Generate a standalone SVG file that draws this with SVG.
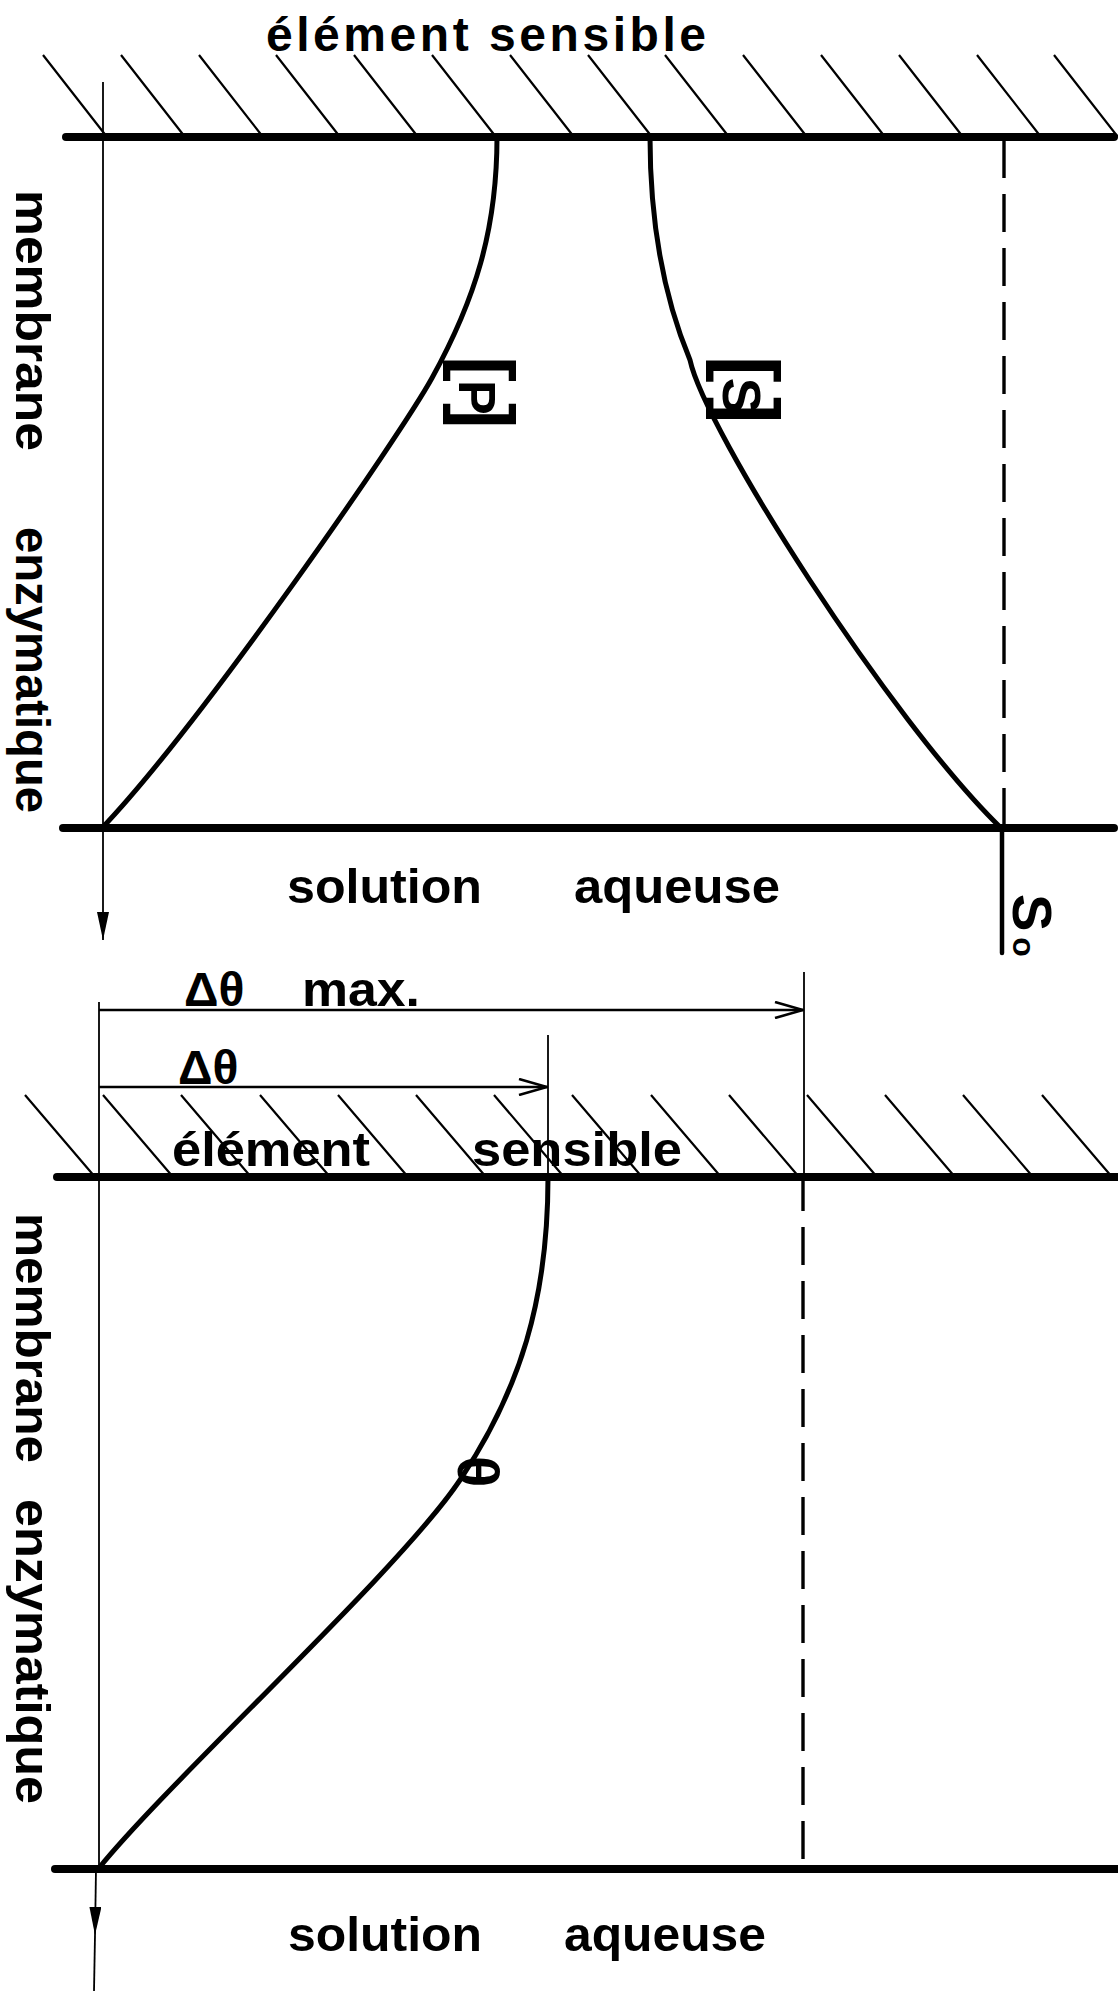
<svg xmlns="http://www.w3.org/2000/svg" width="1118" height="1991" viewBox="0 0 1118 1991">
<defs>
<style>
.t{font-family:"Liberation Sans",Arial,sans-serif;font-weight:bold;font-size:48px;fill:#000}
.thick{stroke:#000;stroke-width:8;stroke-linecap:round;fill:none}
.hatch{stroke:#000;stroke-width:2.2;fill:none}
.curve{stroke:#000;stroke-width:5;fill:none;stroke-linecap:round}
.thin{stroke:#000;stroke-width:1.8;fill:none}
.dash{stroke:#000;stroke-width:3.4;fill:none;stroke-dasharray:38 16}
.dim{stroke:#000;stroke-width:2.6;fill:none}
</style>
<marker id="filled" viewBox="0 0 28 12" refX="28" refY="6" markerWidth="28" markerHeight="12" markerUnits="userSpaceOnUse" orient="auto">
<path d="M0,0 L28,6 L0,12 Z" fill="#000"/>
</marker>
<marker id="open" viewBox="0 0 30 18" refX="29" refY="9" markerWidth="30" markerHeight="18" markerUnits="userSpaceOnUse" orient="auto">
<path d="M1,1 L29,9 L1,17" fill="none" stroke="#000" stroke-width="2.6"/>
</marker>
</defs>
<rect width="1118" height="1991" fill="#fff"/>

<!-- TOP DIAGRAM -->
<g id="top-hatch">
<path class="hatch" d="M43,55 L107,137 M121,55 L185,137 M199,55 L263,137 M276,55 L340,137 M354,55 L418,137 M432,55 L496,137 M510,55 L574,137 M588,55 L652,137 M665,55 L729,137 M743,55 L807,137 M821,55 L885,137 M899,55 L963,137 M977,55 L1041,137 M1054,55 L1118,137"/>
</g>
<g id="top-sensor-line"><line class="thick" x1="66" y1="137" x2="1114" y2="137"/></g>
<g id="top-solution-line"><line class="thick" x1="63" y1="828" x2="1114" y2="828"/></g>
<g id="top-label-sensor"><text class="t" x="266" y="51" textLength="440" lengthAdjust="spacing">élément sensible</text></g>
<g id="top-label-solution">
<text class="t" x="287" y="903" textLength="195" lengthAdjust="spacingAndGlyphs">solution</text>
<text class="t" x="574" y="903" textLength="206" lengthAdjust="spacingAndGlyphs">aqueuse</text>
</g>
<g id="top-label-membrane">
<text class="t" transform="translate(16,190) rotate(90)" textLength="261" lengthAdjust="spacingAndGlyphs">membrane</text>
<text class="t" transform="translate(16,527) rotate(90)" textLength="286" lengthAdjust="spacingAndGlyphs">enzymatique</text>
</g>
<g id="curve-P">
<path class="curve" d="M497,137 C497,230 475,300 432,378 C400,436 200,725 102,828"/>
<text class="t" transform="translate(459,356) rotate(90)"><tspan font-size="78">[</tspan><tspan font-size="52" dx="-2">P</tspan><tspan font-size="78" dx="-12">]</tspan></text>
</g>
<g id="curve-S">
<path class="curve" d="M650,137 C650,230 665,300 690,360 C705,430 890,720 1001,828"/>
<text class="t" transform="translate(723,356) rotate(90)"><tspan font-size="80">[</tspan><tspan font-size="54" dx="-5">S</tspan><tspan font-size="80" dx="-17">]</tspan></text>
</g>
<g id="S0-marker">
<line class="dash" x1="1004" y1="140" x2="1004" y2="828"/>
<line x1="1002" y1="828" x2="1002" y2="953" stroke="#000" stroke-width="4.5" stroke-linecap="round"/>
<text class="t" transform="translate(1013,894) rotate(90)"><tspan font-size="56">S</tspan><tspan font-size="32" dx="6">o</tspan></text>
</g>

<!-- BOTTOM DIAGRAM -->
<g id="bottom-hatch">
<path class="hatch" d="M25,1095 L95,1177 M103,1095 L173,1177 M181,1095 L251,1177 M260,1095 L330,1177 M338,1095 L408,1177 M416,1095 L486,1177 M494,1095 L564,1177 M572,1095 L642,1177 M651,1095 L721,1177 M729,1095 L799,1177 M807,1095 L877,1177 M885,1095 L955,1177 M963,1095 L1033,1177 M1042,1095 L1112,1177"/>
</g>
<g id="bottom-sensor-line"><line class="thick" x1="57" y1="1177" x2="1118" y2="1177"/></g>
<g id="bottom-solution-line"><line class="thick" x1="55" y1="1869" x2="1118" y2="1869"/></g>
<g id="bottom-label-sensor">
<text class="t" x="172" y="1166" textLength="198" lengthAdjust="spacingAndGlyphs">élément</text>
<text class="t" x="472" y="1166" textLength="210" lengthAdjust="spacingAndGlyphs">sensible</text>
</g>
<g id="bottom-label-solution">
<text class="t" x="288" y="1951" textLength="194" lengthAdjust="spacingAndGlyphs">solution</text>
<text class="t" x="564" y="1951" textLength="202" lengthAdjust="spacingAndGlyphs">aqueuse</text>
</g>
<g id="bottom-label-membrane">
<text class="t" transform="translate(16,1213) rotate(90)" textLength="250" lengthAdjust="spacingAndGlyphs">membrane</text>
<text class="t" transform="translate(16,1499) rotate(90)" textLength="305" lengthAdjust="spacingAndGlyphs">enzymatique</text>
</g>
<g id="curve-theta">
<path class="curve" d="M548,1177 C548,1300 520,1390 460,1480 C400,1570 170,1780 99,1868"/>
<text class="t" transform="translate(458,1456) rotate(90)" style="font-size:58px">θ</text>
</g>
<g id="theta-max-marker">
<line class="dash" x1="803" y1="1177" x2="803" y2="1869" stroke-dashoffset="4"/>
</g>
<g id="label-dtheta-max">
<text class="t" x="184" y="1006">Δθ</text>
<text class="t" x="302" y="1006" textLength="118" lengthAdjust="spacingAndGlyphs">max.</text>
</g>
<g id="label-dtheta">
<text class="t" x="178" y="1084">Δθ</text>
</g>

<!-- CONNECTORS -->
<g id="connectors">
<line class="thin" x1="103" y1="82" x2="103" y2="828"/>
<line class="thin" x1="103" y1="828" x2="103" y2="940" marker-end="url(#filled)"/>
<line class="thin" x1="99" y1="1002" x2="99" y2="1869"/>
<line class="thin" x1="96" y1="1869" x2="95" y2="1935" marker-end="url(#filled)"/>
<line class="thin" x1="95" y1="1935" x2="94" y2="1991"/>
<line class="dim" x1="99" y1="1010" x2="803" y2="1010" marker-end="url(#open)"/>
<line class="dim" x1="99" y1="1087" x2="547" y2="1087" marker-end="url(#open)"/>
<line class="thin" x1="548" y1="1035" x2="548" y2="1177"/>
<line class="thin" x1="804" y1="972" x2="804" y2="1177"/>
</g>
</svg>
